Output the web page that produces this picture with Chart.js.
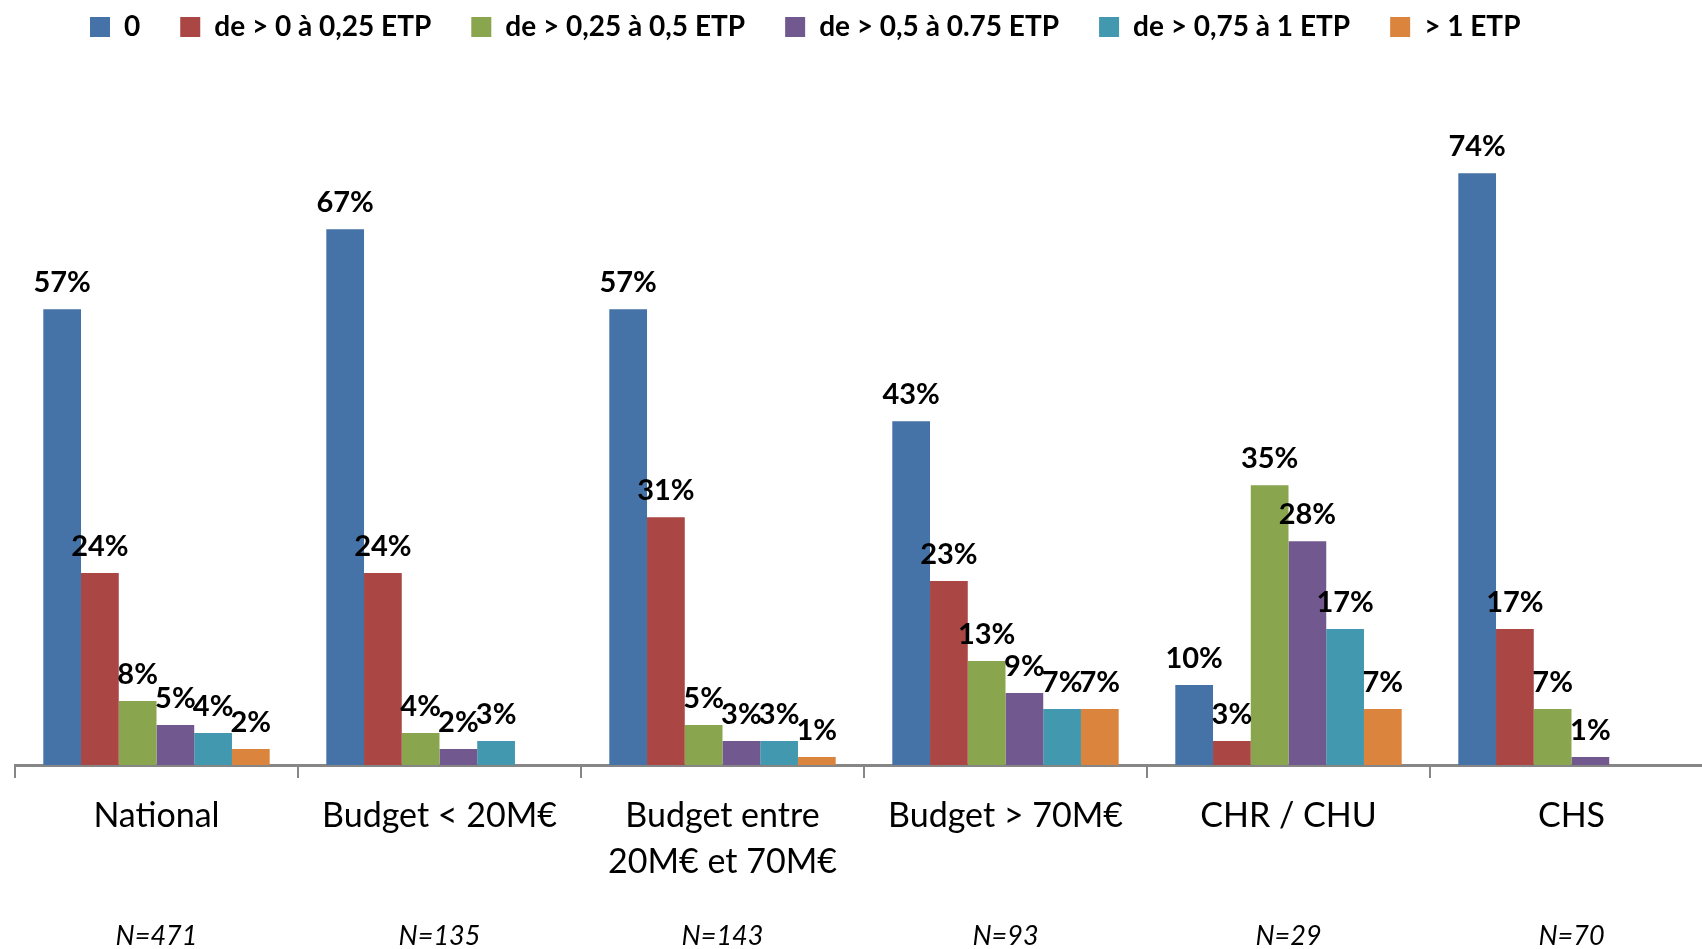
<!DOCTYPE html>
<html>
<head>
<meta charset="utf-8">
<script src="https://cdn.jsdelivr.net/npm/chart.js@4.4.1/dist/chart.umd.min.js"></script>
<style>
html, body { margin: 0; padding: 0; background: #fff; }
#wrap { width: 1702px; height: 949px; position: relative; }
</style>
</head>
<body>
<div id="wrap"><canvas id="chart-area"></canvas></div>
<script>
// categories + N under each group
var categories = ['National', 'Budget < 20M€', ['Budget entre', '20M€ et 70M€'], 'Budget > 70M€', 'CHR / CHU', 'CHS'];
var sample_sizes = ['N=471', 'N=135', 'N=143', 'N=93', 'N=29', 'N=70'];

// series (percent), null = no bar
var series_names = ['0', 'de > 0 à 0,25 ETP', 'de > 0,25 à 0,5 ETP', 'de > 0,5 à 0.75 ETP', 'de > 0,75 à 1 ETP', '> 1 ETP'];
var etp_0 = [57, 67, 57, 43, 10, 74];
var etp_0_025 = [24, 24, 31, 23, 3, 17];
var etp_025_05 = [8, 4, 5, 13, 35, 7];
var etp_05_075 = [5, 2, 3, 9, 28, 1];
var etp_075_1 = [4, 3, 3, 7, 17, null];
var etp_1_plus = [2, null, 1, 7, 7, null];

var colors = ['#4572A7', '#AA4643', '#89A54E', '#71588F', '#4198AF', '#DB843D'];
var series_values = [etp_0, etp_0_025, etp_025_05, etp_05_075, etp_075_1, etp_1_plus];

var datasets = [];
for (var i = 0; i < series_values.length; i++) {
  datasets.push({
    label: series_names[i],
    data: series_values[i],
    backgroundColor: colors[i],
    borderWidth: 0,
    categoryPercentage: 0.8,
    barPercentage: 1.0
  });
}

// percent labels above the bars
var barLabels = {
  id: 'barLabels',
  afterDatasetsDraw: function(chart) {
    var ctx = chart.ctx;
    ctx.save();
    ctx.font = 'bold 29px Lato';
    ctx.fillStyle = '#000';
    ctx.textAlign = 'center';
    ctx.textBaseline = 'alphabetic';
    chart.data.datasets.forEach(function(ds, di) {
      var meta = chart.getDatasetMeta(di);
      meta.data.forEach(function(bar, j) {
        var v = ds.data[j];
        if (v === null || v === undefined) return;
        ctx.fillText(v + '%', bar.x, bar.y - 17);
      });
    });
    ctx.restore();
  }
};

// the original plot runs a bit past the right edge; legend sits left of centre
var layoutTweaks = {
  id: 'layoutTweaks',
  afterLayout: function(chart) {
    ['x', 'x2'].forEach(function(id) {
      var s = chart.scales[id];
      s.left = 15;
      s.right = 1713;
      s.width = s.right - s.left;
      s.configure();
    });
    var lg = chart.legend;
    var pad = lg.options.labels.padding;
    var x0 = (lg.left + pad + lg.right - lg.lineWidths[0]) / 2;
    var shift = x0 - 90;
    lg.left -= shift;
    lg.right -= shift;
  }
};

var config = {
  type: 'bar',
  data: {
    labels: categories,
    datasets: datasets
  },
  options: {
    responsive: true,
    maintainAspectRatio: false,
    animation: false,
    layout: { padding: { top: -27, left: 15, right: 0, bottom: -15 } },
    plugins: {
      legend: {
        position: 'top',
        labels: {
          font: { family: 'Lato', size: 28, weight: 'bold' },
          color: '#000',
          boxWidth: 20,
          boxHeight: 20,
          padding: 40
        }
      },
      tooltip: { enabled: false }
    },
    scales: {
      x: {
        offset: true,
        weight: 0,
        grid: { offset: true, drawOnChartArea: false, color: '#868686', lineWidth: 2, tickLength: 13 },
        border: { color: '#868686', width: 3 },
        ticks: {
          font: { family: 'Lato', size: 34, lineHeight: '46px' },
          color: '#000',
          padding: 15,
          maxRotation: 0,
          autoSkip: false
        }
      },
      x2: {
        type: 'category',
        position: 'bottom',
        labels: sample_sizes,
        offset: true,
        weight: 1,
        grid: { display: false },
        border: { display: false },
        ticks: {
          font: { family: 'Lato', size: 27, style: 'italic', lineHeight: '32px' },
          color: '#000',
          padding: 12,
          maxRotation: 0,
          autoSkip: false
        }
      },
      y: {
        display: false,
        min: 0,
        max: 89.3
      }
    }
  },
  plugins: [barLabels, layoutTweaks]
};

var ctx = document.getElementById('chart-area').getContext('2d');
var chart = new Chart(ctx, config);
</script>
</body>
</html>
